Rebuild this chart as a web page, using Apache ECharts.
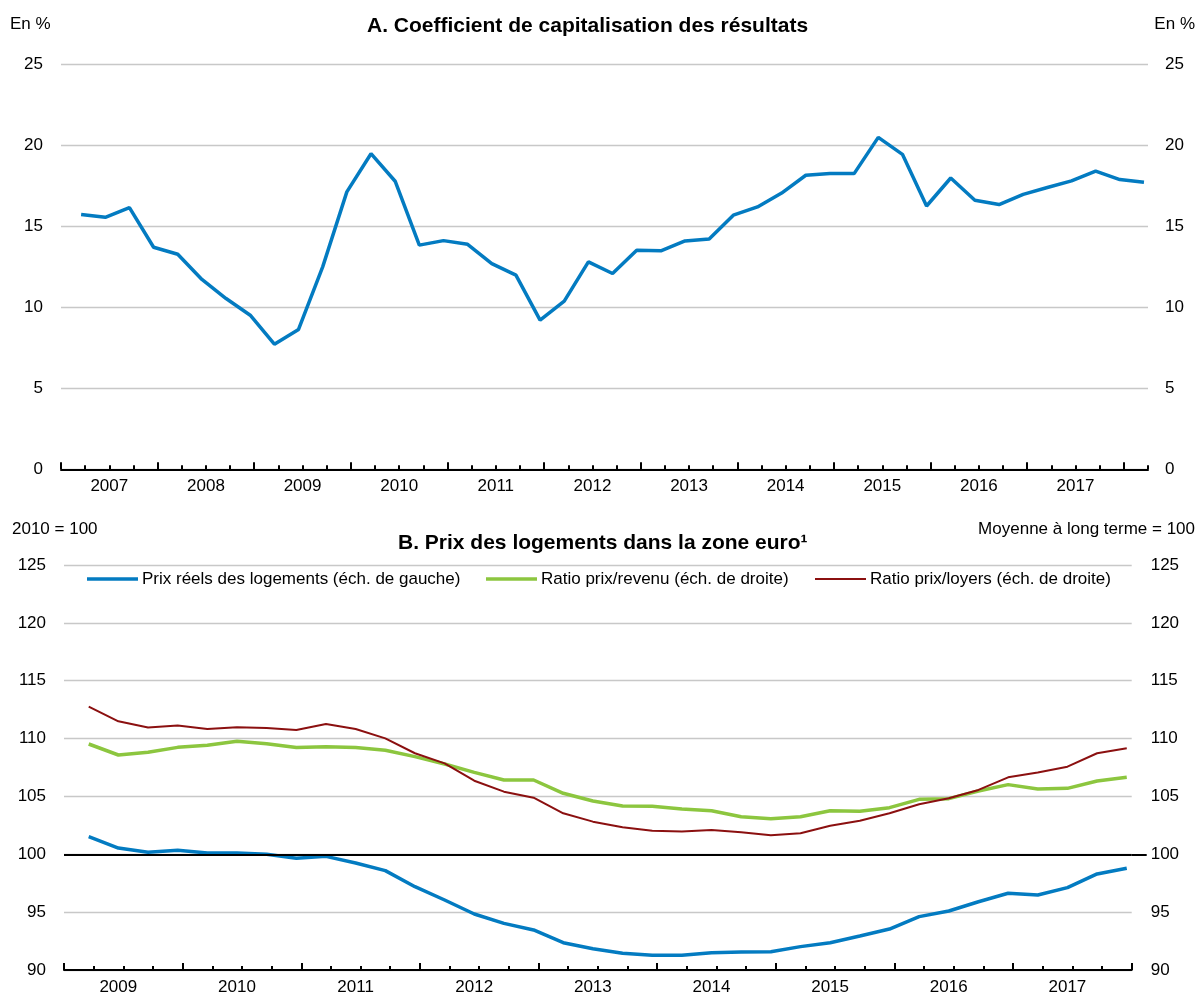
<!DOCTYPE html>
<html><head><meta charset="utf-8">
<script src="https://cdn.jsdelivr.net/npm/echarts@6/dist/echarts.min.js"></script>
<style>html,body{margin:0;padding:0;background:#fff}#c{width:1198px;height:996px}</style>
</head><body><div id="c"></div>
<script>
// ---------- Data ----------
// Panel A: quarterly, 2007T1 .. 2018T1
const quartersA = ['2007T1','2007T2','2007T3','2007T4','2008T1','2008T2','2008T3','2008T4','2009T1','2009T2','2009T3','2009T4','2010T1','2010T2','2010T3','2010T4','2011T1','2011T2','2011T3','2011T4','2012T1','2012T2','2012T3','2012T4','2013T1','2013T2','2013T3','2013T4','2014T1','2014T2','2014T3','2014T4','2015T1','2015T2','2015T3','2015T4','2016T1','2016T2','2016T3','2016T4','2017T1','2017T2','2017T3','2017T4','2018T1'];
const capitalisation = [15.74,15.57,16.17,13.72,13.29,11.73,10.55,9.52,7.73,8.64,12.51,17.14,19.5,17.8,13.85,14.13,13.9,12.71,12.0,9.22,10.39,12.82,12.1,13.54,13.5,14.11,14.23,15.7,16.21,17.07,18.17,18.27,18.27,20.51,19.46,16.27,18.0,16.62,16.36,16.99,17.41,17.82,18.43,17.9,17.73];
const yearsA = ['2007','2008','2009','2010','2011','2012','2013','2014','2015','2016','2017'];

// Panel B: quarterly, 2009T1 .. 2017T4
const quartersB = ['2009T1','2009T2','2009T3','2009T4','2010T1','2010T2','2010T3','2010T4','2011T1','2011T2','2011T3','2011T4','2012T1','2012T2','2012T3','2012T4','2013T1','2013T2','2013T3','2013T4','2014T1','2014T2','2014T3','2014T4','2015T1','2015T2','2015T3','2015T4','2016T1','2016T2','2016T3','2016T4','2017T1','2017T2','2017T3','2017T4'];
const prixReels = [101.52,100.54,100.17,100.34,100.11,100.11,100.0,99.65,99.82,99.25,98.59,97.2,96.05,94.84,94.03,93.46,92.36,91.84,91.44,91.27,91.27,91.5,91.56,91.58,92.02,92.36,92.94,93.54,94.61,95.1,95.9,96.63,96.48,97.12,98.3,98.79];
const ratioRevenu = [109.53,108.58,108.81,109.24,109.42,109.76,109.56,109.22,109.3,109.22,108.99,108.44,107.8,107.08,106.42,106.42,105.27,104.61,104.17,104.15,103.92,103.77,103.25,103.08,103.25,103.77,103.71,104.03,104.75,104.81,105.47,106.02,105.64,105.7,106.33,106.65];
const ratioLoyers = [112.76,111.49,110.95,111.12,110.83,110.97,110.92,110.74,111.26,110.83,110.02,108.73,107.86,106.36,105.41,104.89,103.54,102.82,102.33,102.04,101.96,102.1,101.9,101.64,101.81,102.47,102.9,103.54,104.32,104.84,105.56,106.65,107.06,107.57,108.73,109.16];
const yearsB = ['2009','2010','2011','2012','2013','2014','2015','2016','2017'];

const seriesNamesB = ['Prix réels des logements (éch. de gauche)','Ratio prix/revenu (éch. de droite)','Ratio prix/loyers (éch. de droite)'];

// ---------- Helpers ----------
const FONT = "'Liberation Sans',Arial,sans-serif";
const FS = 17;
const OBS = 5/6; // observation placed in the middle of the quarter's last month
function pts(vals){ return vals.map((v,i)=>[i+OBS, v]); }
function range(n, step){ const a=[]; for(let i=0;i<=n;i+=step) a.push(i); return a; }
const nA = quartersA.length, nB = quartersB.length;
const yearCentersA = yearsA.map((y,i)=>i*4+2);
const yearCentersB = yearsB.map((y,i)=>i*4+2);

const BLUE='#037BC1', GREEN='#8CC63F', RED='#8B1010', GRID='#C8C8C8';

function xTickAxis(grid, n, labels, centers, labelPad){
  return {
    gridIndex: grid, type:'value', position:'bottom', min:0, max:n,
    axisLine:{show:true, onZero:false, lineStyle:{color:'#000', width:2}},
    axisTick:{show:true, inside:true, length:4, customValues: range(n,1), lineStyle:{color:'#000', width:2}},
    axisLabel:{show:true, customValues: centers, margin:9, fontFamily:FONT, fontSize:FS, color:'#000', lineHeight:FS,
      padding: labelPad,
      formatter: v => labels[Math.round((v-2)/4)] || ''},
    splitLine:{show:false}
  };
}
function xYearTickAxis(grid, n){
  return {
    gridIndex: grid, type:'value', position:'bottom', min:0, max:n,
    axisLine:{show:false, onZero:false},
    axisTick:{show:true, inside:true, length:7, customValues: range(Math.floor(n/4)*4,4), lineStyle:{color:'#000', width:2}},
    axisLabel:{show:false}, splitLine:{show:false}
  };
}
function yAxis(grid, pos, min, max, split, margin, extra){
  return Object.assign({
    gridIndex:grid, type:'value', position:pos, min:min, max:max, interval:5,
    axisLine:{show:false}, axisTick:{show:false},
    axisLabel:{margin:margin, fontFamily:FONT, fontSize:FS, color:'#000'},
    splitLine:{show:split, lineStyle:{color:GRID, width:1.4}}
  }, extra||{});
}
function txt(text, pos, top, size, bold){
  return Object.assign({text:text, top:top, padding:0,
    textStyle:{fontFamily:FONT, fontSize:size, fontWeight: bold?'bold':'normal', color:'#000', lineHeight:size}}, pos);
}
function legend(name, left, h){
  return {data:[name], left:left, top:579 - FS/2, itemWidth:51, itemHeight:h, itemGap:0, padding:0, icon:'rect',
    textStyle:{fontFamily:FONT, fontSize:FS, color:'#000', lineHeight:FS, padding:[0,0,0,-1]}, selectedMode:false};
}

const option = {
  animation:false,
  backgroundColor:'#fff',
  title:[
    txt('En %', {left:10}, 16, FS, false),
    txt('En %', {right:3}, 16, FS, false),
    txt('A. Coefficient de capitalisation des résultats', {left:367}, 16, 21, true),
    txt('2010 = 100', {left:12}, 521, FS, false),
    txt('Moyenne à long terme = 100', {right:3}, 521, FS, false),
    txt('B. Prix des logements dans la zone euro¹', {left:398}, 533, 21, true)
  ],
  legend:[ legend(seriesNamesB[0], 87, 3.5), legend(seriesNamesB[1], 486, 3.5), legend(seriesNamesB[2], 815, 2) ],
  grid:[
    {left:61, right:50, top:64.7, height:404.6, outerBoundsMode:'none'},
    {left:64, right:66.3, top:565, height:405, outerBoundsMode:'none'}
  ],
  xAxis:[
    xTickAxis(0, nA, yearsA, yearCentersA, [0,0,0,0]),
    xYearTickAxis(0, nA),
    xTickAxis(1, nB, yearsB, yearCentersB, [0,10,0,0]),
    xYearTickAxis(1, nB)
  ],
  yAxis:[
    yAxis(0,'left',0,25,true,18),
    yAxis(0,'right',0,25,false,17),
    yAxis(1,'left',90,125,true,18),
    yAxis(1,'right',90,125,false,19,{
      axisLine:{show:true, onZero:false, lineStyle:{color:'rgba(0,0,0,0)', width:1}},
      axisTick:{show:true, inside:false, length:15, customValues:[100], lineStyle:{color:'#000', width:2}}})
  ],
  series:[
    {type:'line', name:'capitalisation', xAxisIndex:0, yAxisIndex:0, data:pts(capitalisation),
      symbol:'none', lineStyle:{color:BLUE, width:3.5}, itemStyle:{color:BLUE}, z:3},
    {type:'line', name:'ref100', xAxisIndex:2, yAxisIndex:2, data:[], symbol:'none', z:1,
      markLine:{silent:true, symbol:'none', label:{show:false}, lineStyle:{color:'#000', width:2, type:'solid'},
        data:[{yAxis:100}]}},
    {type:'line', name:seriesNamesB[1], xAxisIndex:2, yAxisIndex:3, data:pts(ratioRevenu),
      symbol:'none', lineStyle:{color:GREEN, width:3.5}, itemStyle:{color:GREEN}, z:3},
    {type:'line', name:seriesNamesB[2], xAxisIndex:2, yAxisIndex:3, data:pts(ratioLoyers),
      symbol:'none', lineStyle:{color:RED, width:2}, itemStyle:{color:RED}, z:3},
    {type:'line', name:seriesNamesB[0], xAxisIndex:2, yAxisIndex:2, data:pts(prixReels),
      symbol:'none', lineStyle:{color:BLUE, width:3.5}, itemStyle:{color:BLUE}, z:3}
  ]
};
const chart = echarts.init(document.getElementById('c'), null, {renderer:'canvas'});
chart.setOption(option);
</script>
</body></html>
